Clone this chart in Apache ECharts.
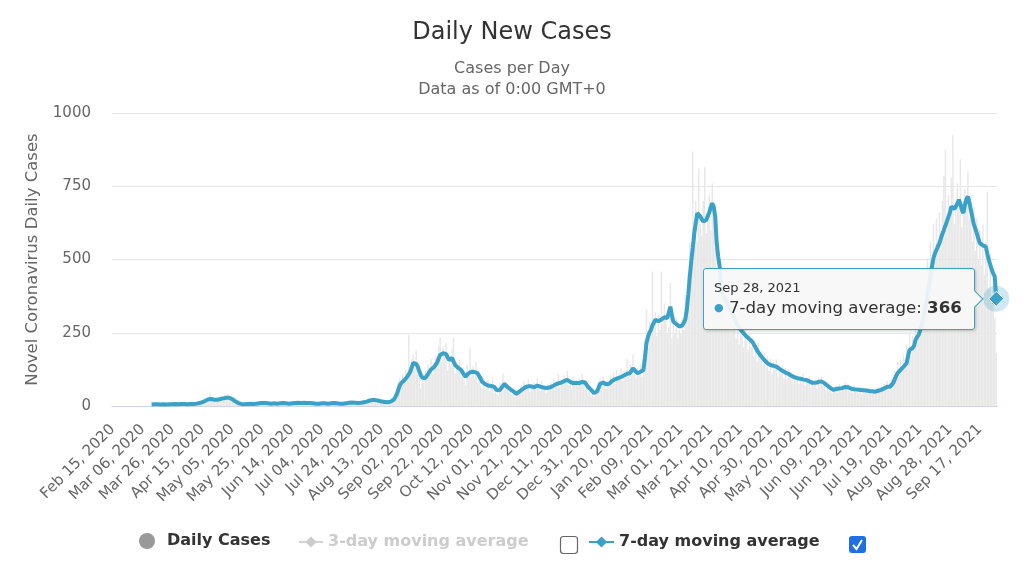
<!DOCTYPE html>
<html><head><meta charset="utf-8">
<script src="https://cdn.jsdelivr.net/npm/echarts@6/dist/echarts.min.js"></script>
<style>html,body{margin:0;padding:0;background:#fff}#c{width:1024px;height:567px}</style>
</head><body><div id="c"></div>
<script>
// ---- data ----
const START_YEAR = 2020, START_MONTH = 1, START_DAY = 15; // Feb 15, 2020
const MONTHS = ['Jan','Feb','Mar','Apr','May','Jun','Jul','Aug','Sep','Oct','Nov','Dec'];
const yTicks = [0, 250, 500, 750, 1000];

const dailyCases = [
0,0,0,0,0,0,0,0,0,0,0,0,0,0,0,0,0,0,0,0,0,0,0,0,0,0,
3,8,4,6,9,5,3,7,8,6,4,7,5,10,6,4,9,7,5,8,9,4,8,10,5,6,9,11,5,9,10,12,14,
15,12,20,25,18,30,45,20,18,25,16,28,22,30,35,20,38,25,40,30,22,28,15,12,18,6,8,5,
9,4,6,10,5,8,11,6,7,12,8,10,13,7,11,14,8,9,12,6,10,8,12,7,9,11,6,13,10,8,7,10,12,8,11,14,9,13,10,12,15,9,13,11,
12,8,10,11,7,9,10,6,12,8,10,11,7,9,12,8,13,10,7,11,9,10,6,9,12,8,14,13,10,15,13,9,14,8,12,10,15,16,12,18,20,24,17,28,22,19,25,15,18,20,12,16,10,15,12,20,26,
30,45,60,85,95,70,110,90,125,95,243,105,160,175,130,190,115,140,60,100,80,120,90,140,125,160,110,150,170,130,205,232,150,200,165,215,120,170,140,195,233,110,150,120,160,100,130,90,70,140,120,197,100,135,95,150,80,110,70,60,95,55,80,
90,50,75,95,45,70,40,35,80,60,110,85,60,75,50,70,40,60,30,45,55,40,70,60,85,55,75,90,50,70,60,80,55,95,65,50,85,55,70,45,75,55,80,60,95,70,85,110,65,90,75,105,95,120,70,90,60,100,75,85,65,95,80,110,90,60,70,45,65,35,50,30,45,70,85,95,65,100,75,60,90,70,105,80,115,75,125,90,110,130,85,120,95,160,100,
140,105,175,120,95,130,110,145,100,160,230,330,200,290,250,459,280,320,240,310,260,459,280,350,300,250,270,420,230,290,250,300,230,260,250,300,260,380,360,450,560,520,869,610,700,560,810,620,580,700,816,590,650,720,600,760,650,540,470,420,430,330,380,310,360,
300,370,280,350,260,320,230,300,210,280,240,200,270,220,190,250,200,230,170,210,150,220,160,190,140,180,130,170,120,160,110,150,125,160,100,140,110,135,95,130,90,125,100,115,80,110,85,105,75,100,80,110,70,95,75,100,65,90,70,85,60,95,75,100,70,85,55,75,50,70,45,65,50,70,45,75,50,70,55,80,60,75,50,65,45,70,50,60,45,65,40,65,45,60,40,60,45,55,40,60,45,65,50,70,55,75,60,85,55,80,
95,90,120,100,150,110,160,120,175,130,210,180,250,170,240,200,300,220,310,260,380,300,420,360,500,430,560,480,620,500,640,520,660,550,700,785,874,600,720,640,780,926,620,700,760,680,843,610,700,740,690,800,640,720,560,680,530,640,500,600,480,620,450,560,732,400,520,380,470,300,180
];

const avg7 = [
null,null,null,null,null,null,null,null,null,null,null,null,null,null,null,null,null,null,null,null,null,null,null,null,null,null,
5,5,6,5,6,6,5,6,6,6,5,6,6,7,6,6,7,6,6,7,7,6,7,7,6,7,7,8,7,8,8,9,10,
11,13,15,18,20,23,25,24,22,21,20,21,22,24,25,26,27,28,29,28,26,23,20,16,13,10,8,7,
7,6,6,7,7,8,7,7,8,8,9,9,10,10,9,10,10,9,9,8,8,9,9,8,8,9,9,10,9,9,8,8,9,9,10,10,10,11,11,10,11,11,11,10,
10,10,9,9,9,8,8,8,9,9,9,9,8,8,9,9,10,10,9,9,9,8,8,8,9,9,10,11,12,12,12,11,11,10,10,11,12,13,14,15,17,19,20,21,21,20,19,18,16,15,14,14,13,13,13,15,18,
22,30,40,55,70,78,83,88,92,100,108,117,132,147,150,143,134,120,106,97,92,95,100,110,118,125,130,133,134,148,162,174,179,180,179,177,166,157,160,164,152,140,134,130,126,123,115,107,100,106,112,115,117,117,116,114,112,103,95,83,78,75,72,
70,69,68,67,66,60,54,49,55,62,68,75,70,65,61,57,53,50,45,41,45,49,52,57,61,64,66,67,68,67,65,64,67,70,68,66,65,63,62,61,62,63,64,67,70,73,75,77,79,80,82,85,87,89,85,82,80,78,78,79,79,78,78,82,86,80,72,65,60,55,50,44,40,50,62,75,79,80,77,74,72,76,80,85,89,91,92,95,97,99,101,104,106,110,108,
112,120,129,122,118,112,114,117,120,123,165,214,235,250,260,275,285,294,292,289,288,295,300,303,305,300,294,339,310,288,284,280,275,271,272,275,277,295,328,380,442,495,540,590,625,658,652,647,638,630,633,635,648,660,678,692,681,647,556,510,476,396,382,370,360,
351,340,330,320,308,296,285,276,268,260,254,248,242,237,232,228,222,218,214,200,190,182,175,168,162,156,150,146,143,140,138,137,136,134,131,127,123,120,117,114,112,110,106,103,100,98,96,95,96,93,91,90,89,89,87,84,81,79,78,79,80,82,84,84,83,78,74,70,66,62,58,55,56,58,59,60,60,61,63,65,66,64,61,59,58,57,56,56,55,55,54,54,53,53,52,51,50,50,49,49,50,52,53,55,57,60,63,66,66,66,
72,78,90,102,112,118,123,129,134,140,146,170,191,195,198,205,225,235,242,248,271,295,320,348,373,410,445,476,505,521,532,545,556,572,588,601,615,630,635,660,681,678,672,670,690,704,690,670,658,685,705,715,695,670,645,620,605,590,572,556,552,548,546,544,520,499,482,465,452,442,366
];

const avg3 = []; // hidden series (legend item disabled)

// category labels (one per day)
const categories = avg7.map((_, i) => {
  const d = new Date(Date.UTC(START_YEAR, START_MONTH, START_DAY + i));
  return MONTHS[d.getUTCMonth()] + ' ' + String(d.getUTCDate()).padStart(2, '0') + ', ' + d.getUTCFullYear();
});

// ---- chart ----
const FONT = 'DejaVu Sans';
const LINE = '#3aa2c8';
const lastIdx = avg7.length - 1;
const chart = echarts.init(document.getElementById('c'), null, {renderer: 'canvas'});

const legendText = {fontFamily: FONT, fontSize: 16, fontWeight: 'bold', color: '#333'};

chart.setOption({
  animation: false,
  title: [
    {text: 'Daily New Cases', left: 'center', top: 16, textStyle: {fontFamily: FONT, fontSize: 24, fontWeight: 'normal', color: '#333'}},
    {text: 'Cases per Day', left: 'center', top: 56, textStyle: {fontFamily: FONT, fontSize: 16, fontWeight: 'normal', color: '#666'}},
    {text: 'Data as of 0:00 GMT+0', left: 'center', top: 77, textStyle: {fontFamily: FONT, fontSize: 16, fontWeight: 'normal', color: '#666'}}
  ],
  grid: {left: 112, right: 27, top: 113, bottom: 161},
  xAxis: {
    type: 'category', data: categories, boundaryGap: true,
    axisLine: {lineStyle: {color: '#ccd6eb'}}, axisTick: {show: false},
    axisLabel: {interval: 19, rotate: 45, color: '#666', fontSize: 15, fontFamily: FONT, margin: 21}
  },
  yAxis: {
    type: 'value', min: yTicks[0], max: yTicks[yTicks.length - 1], interval: yTicks[1] - yTicks[0],
    name: 'Novel Coronavirus Daily Cases', nameLocation: 'middle', nameGap: 71,
    nameTextStyle: {color: '#666', fontSize: 16.5, fontFamily: FONT},
    axisLabel: {color: '#666', fontSize: 15, fontFamily: FONT, margin: 21, formatter: v => String(v)},
    splitLine: {lineStyle: {color: '#e6e6e6'}}
  },
  legend: [
    {data: [{name: 'Daily Cases', icon: 'circle', itemStyle: {color: '#999'}}], left: 139, top: 533, padding: 0, itemWidth: 16, itemHeight: 16,
     textStyle: Object.assign({padding: [0, 0, 0, 7]}, legendText)},
    {data: ['3-day moving average'], left: 298, top: 534, padding: 0, itemWidth: 24, itemHeight: 14, inactiveColor: '#ccc',
     selected: {'3-day moving average': false}, textStyle: legendText},
    {data: ['7-day moving average'], left: 588, top: 534, padding: 0, itemWidth: 25, itemHeight: 14, textStyle: legendText}
  ],
  tooltip: {
    trigger: 'axis', axisPointer: {type: 'none'}, triggerOn: 'none', alwaysShowContent: true,
    transitionDuration: 0, backgroundColor: 'rgba(247,247,247,0.92)', borderColor: LINE, borderWidth: 1,
    padding: [10, 12, 9, 10], extraCssText: 'border-radius:3px;box-shadow:1px 1px 3px rgba(0,0,0,0.2);',
    textStyle: {fontFamily: FONT, color: '#333'},
    formatter: function (params) {
      const p = params.find(x => x.seriesName === '7-day moving average');
      return '<div style="font-size:13px;line-height:17px;color:#333">' + p.name + '</div>' +
        '<div style="font-size:16.6px;line-height:24px;color:#333"><span style="color:' + LINE + ';font-size:11px;vertical-align:2px">\u25CF</span> 7-day moving average: <b>' + p.value + '</b></div>' +
        '<div style="position:absolute;right:-7px;top:50%;margin-top:-6px;width:11px;height:11px;background:rgb(247,247,247);border-top:1px solid ' + LINE + ';border-right:1px solid ' + LINE + ';transform:rotate(45deg)"></div>';
    },
    position: function (pt, params, dom, rect, size) {
      const px = chart.convertToPixel({seriesIndex: 2}, [lastIdx, avg7[lastIdx]]);
      return [px[0] - size.contentSize[0] - 21, px[1] - size.contentSize[1] / 2];
    }
  },
  graphic: [
    {type: 'rect', shape: {x: 560.5, y: 536.5, width: 17, height: 17, r: 3}, style: {fill: '#fff', stroke: '#666', lineWidth: 1.2}},
    {type: 'rect', shape: {x: 849, y: 536, width: 17, height: 17, r: 3}, style: {fill: '#1f6fe5'}},
    {type: 'polyline', shape: {points: [[853, 545], [856.5, 549], [862, 540]]}, style: {stroke: '#fff', lineWidth: 2, fill: null}}
  ],
  series: [
    {name: 'Daily Cases', type: 'bar', data: dailyCases, barCategoryGap: '0%',
     itemStyle: {color: '#e8e8e8'}, emphasis: {disabled: true}, z: 1},
    {name: '3-day moving average', type: 'line', data: avg3, symbol: 'diamond', showSymbol: false,
     lineStyle: {color: '#ccc', width: 2}, itemStyle: {color: '#ccc'}},
    {name: '7-day moving average', type: 'line', data: avg7, symbol: 'diamond', symbolSize: 10, showSymbol: false,
     lineStyle: {color: LINE, width: 4}, itemStyle: {color: LINE}, z: 3, emphasis: {disabled: true},
     markPoint: {
       silent: true, label: {show: false},
       data: [
         {coord: [lastIdx, avg7[lastIdx]], symbol: 'circle', symbolSize: 26, itemStyle: {color: 'rgba(58,162,200,0.25)'}},
         {coord: [lastIdx, avg7[lastIdx]], symbol: 'diamond', symbolSize: 15, itemStyle: {color: LINE, borderColor: '#fff', borderWidth: 1}}
       ]
     }}
  ]
});

setTimeout(function () {
  chart.dispatchAction({type: 'showTip', seriesIndex: 2, dataIndex: lastIdx});
}, 0);
</script>
</body></html>
